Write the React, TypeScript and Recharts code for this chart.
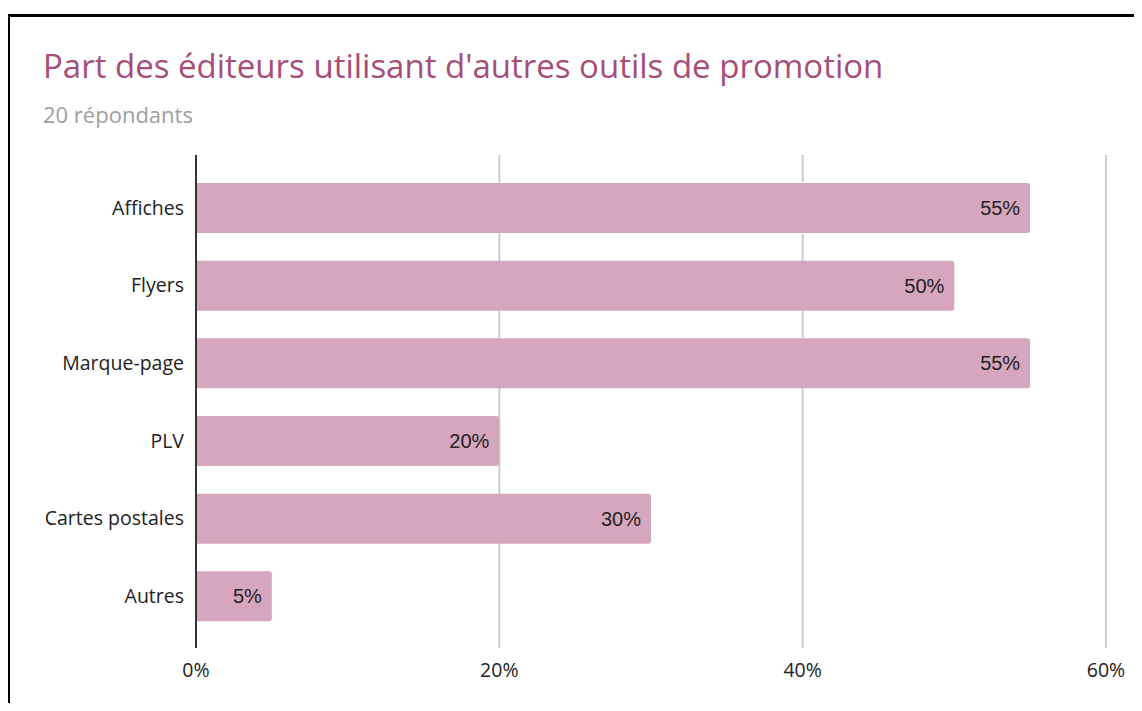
import React from "react";
import {
    BarChart,
    Bar,
    XAxis,
    YAxis,
    CartesianGrid,
    LabelList,
} from "recharts";

const categories = [
    "Affiches",
    "Flyers",
    "Marque-page",
    "PLV",
    "Cartes postales",
    "Autres",
];
const shares = [55, 50, 55, 20, 30, 5];
const xTicks = [0, 20, 40, 60];

const data = categories.map((name, i) => ({ name, value: shares[i] }));

const labelFont = "'Open Sans', Lato, sans-serif";

const App: React.FC = () => {
    return (
        <div
            style={{
                position: "relative",
                width: 1142,
                height: 711,
                margin: -8,
                background: "#fff",
                overflow: "hidden",
            }}
        >
            {/* frame */}
            <div
                style={{
                    position: "absolute",
                    left: 7,
                    top: 14,
                    width: 1200,
                    height: 800,
                    borderLeft: "3px solid #000",
                    borderTop: "3px solid #000",
                }}
            />
            <div
                style={{
                    position: "absolute",
                    left: 43,
                    top: 43,
                    fontFamily: labelFont,
                    fontSize: 33,
                    color: "#a64d79",
                    whiteSpace: "nowrap",
                }}
            >
                Part des éditeurs utilisant d'autres outils de promotion
            </div>
            <div
                style={{
                    position: "absolute",
                    left: 43,
                    top: 99,
                    fontFamily: labelFont,
                    fontSize: 22,
                    color: "#9e9e9e",
                    whiteSpace: "nowrap",
                }}
            >
                20 répondants
            </div>
            <div style={{ position: "absolute", left: 0, top: 0 }}>
                <BarChart
                    width={1142}
                    height={711}
                    data={data}
                    layout="vertical"
                    margin={{ top: 155, right: 36, bottom: 0, left: 0 }}
                    barSize={50}
                >
                    <CartesianGrid
                        horizontal={false}
                        stroke="#cccccc"
                        strokeWidth={2}
                        verticalValues={[20, 40, 60]}
                    />
                    <XAxis
                        type="number"
                        domain={[0, 60]}
                        ticks={xTicks}
                        tickFormatter={(v: number) => `${v}%`}
                        axisLine={false}
                        tickLine={false}
                        tickSize={0}
                        tickMargin={15}
                        height={63}
                        tick={{
                            fill: "#222",
                            fontSize: 19.5,
                            fontFamily: labelFont,
                        }}
                    />
                    <YAxis
                        type="category"
                        dataKey="name"
                        width={196}
                        padding={{ top: 14, bottom: 13 }}
                        axisLine={{ stroke: "#333", strokeWidth: 2 }}
                        tickLine={false}
                        tickSize={0}
                        tickMargin={12}
                        tick={{
                            fill: "#222",
                            fontSize: 19.5,
                            fontFamily: labelFont,
                        }}
                    />
                    <Bar
                        dataKey="value"
                        fill="#d5a6bd"
                        radius={[0, 3, 3, 0]}
                        isAnimationActive={false}
                    >
                        <LabelList
                            dataKey="value"
                            position="insideRight"
                            offset={10}
                            formatter={(v: number) => `${v}%`}
                            fill="#222"
                            fontSize={20}
                            fontFamily="'Liberation Sans', Arial, sans-serif"
                        />
                    </Bar>
                </BarChart>
            </div>
        </div>
    );
};

export default App;
